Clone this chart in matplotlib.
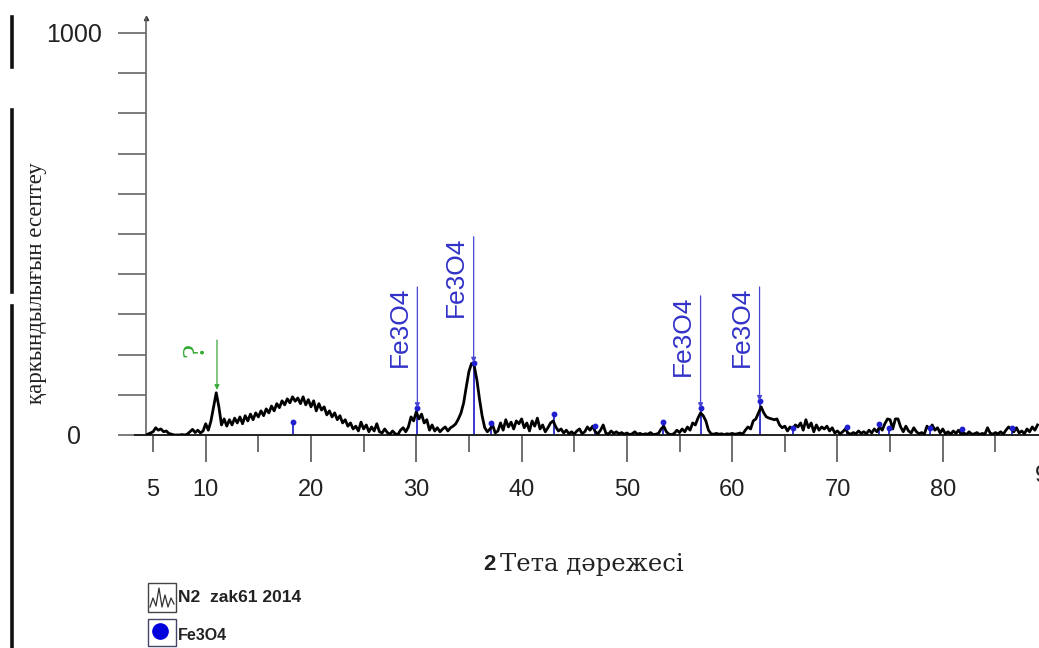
import numpy as np
import matplotlib
matplotlib.use("Agg")
import matplotlib.pyplot as plt
from matplotlib.patches import Rectangle
from matplotlib.lines import Line2D

# ---------------- data ----------------
two_theta = np.arange(4.5, 89.01, 0.25)  # scan grid, degrees 2-theta
intensity = [
    2, 5, 8, 18, 12, 15, 8, 10, 4, 2, 0, 0, 0, 1, 0, 2, 8, 14, 6, 12,
    5, 10, 28, 12, 35, 70, 105, 70, 25, 40, 22, 38, 25, 42, 30, 45, 28, 48, 35, 52,
    38, 55, 45, 60, 48, 65, 55, 72, 60, 78, 68, 85, 75, 90, 80, 95, 84, 92, 78, 95,
    75, 88, 70, 85, 60, 78, 62, 70, 50, 60, 45, 55, 38, 48, 30, 38, 22, 30, 15, 22,
    10, 32, 15, 25, 8, 20, 10, 28, 8, 5, 15, 6, 2, 10, 3, 1, 12, 18, 8, 20,
    45, 35, 58, 40, 52, 30, 38, 12, 25, 10, 18, 8, 15, 20, 10, 18, 22, 28, 40, 55,
    80, 120, 158, 178, 172, 138, 90, 48, 18, 8, 15, 25, 5, 10, 30, 12, 38, 20, 32, 15,
    35, 28, 40, 18, 30, 10, 35, 22, 42, 15, 25, 8, 18, 30, 35, 20, 10, 15, 5, 12,
    3, 8, 2, 10, 15, 3, 8, 20, 12, 22, 8, 3, 12, 25, 5, 2, 10, 4, 8, 3,
    6, 2, 5, 1, 3, 8, 2, 4, 1, 3, 2, 6, 1, 2, 4, 15, 22, 8, 2, 1,
    4, 12, 6, 15, 8, 20, 12, 30, 25, 42, 55, 48, 35, 12, 3, 2, 4, 2, 3, 1,
    3, 2, 4, 2, 3, 5, 2, 12, 20, 15, 35, 40, 55, 70, 55, 45, 42, 40, 38, 40,
    25, 18, 22, 10, 20, 15, 25, 20, 30, 12, 38, 18, 30, 8, 25, 12, 20, 15, 22, 10,
    18, 5, 10, 3, 8, 15, 5, 2, 6, 3, 10, 4, 8, 3, 12, 5, 15, 8, 20, 12,
    28, 40, 38, 15, 40, 40, 20, 8, 22, 10, 5, 18, 8, 3, 6, 2, 22, 15, 25, 12,
    18, 5, 15, 3, 8, 2, 10, 4, 12, 2, 5, 1, 8, 2, 3, 6, 1, 4, 2, 18,
    5, 2, 6, 3, 8, 2, 12, 20, 15, 8, 18, 5, 10, 3, 15, 8, 20, 12, 25,
]
assert len(intensity) == len(two_theta)

# Fe3O4 reference pattern (stick positions / heights)
fe_pos = [18.3, 30.1, 35.45, 37.1, 43.1, 47.0, 53.4, 57.0, 62.6, 65.8, 70.9, 73.9, 74.9, 78.8, 81.8, 86.6]
fe_int = [32, 67, 180, 30, 52, 22, 32, 67, 85, 18, 20, 28, 18, 18, 16, 18]

# labelled peaks
lab_pos = [30.1, 35.45, 57.0, 62.6]
lab_tip = [67, 180, 67, 85]
lab_top = [368, 493, 346, 368]
lab_text = "Fe3O4"

unknown_pos = 11.07
unknown_tip = 112
unknown_top = 236

x_major = [10, 20, 30, 40, 50, 60, 70, 80]
x_minor = [5, 15, 25, 35, 45, 55, 65, 75, 85]
y_ticks = [0, 100, 200, 300, 400, 500, 600, 700, 800, 900, 1000]

W, H = 1039, 648
fig = plt.figure(figsize=(W / 100, H / 100), dpi=100)
fig.patch.set_facecolor("white")

def fx(x):
    return x / W

def fy(y):
    return 1 - y / H

ax = fig.add_axes([fx(146), fy(435), (W - 146) / W, (435 - 18) / H])
ax.set_xlim(4.33, 89.14)
ax.set_ylim(0, 1037)
for s in ("top", "right"):
    ax.spines[s].set_visible(False)
ax.spines["left"].set_color("#666666")
ax.spines["left"].set_linewidth(1.2)
ax.spines["bottom"].set_color("#222222")
ax.spines["bottom"].set_linewidth(1.4)

sans = ["Liberation Sans", "DejaVu Sans"]
serif = ["Liberation Serif", "DejaVu Serif"]

# y ticks
ax.set_yticks(y_ticks)
ax.set_yticklabels(["0"] + [""] * 9 + ["1000"], family=sans, fontsize=18, color="#222222", ha="center")
ax.tick_params(axis="y", direction="out", length=20, width=1.2, color="#666666", pad=32)

# x ticks
ax.set_xticks(x_major)
ax.set_xticklabels([str(v) for v in x_major], family=sans, fontsize=17, color="#222222")
ax.set_xticks(x_minor, minor=True)
ax.set_xticklabels(["5"] + [""] * (len(x_minor) - 1), minor=True, family=sans, fontsize=17, color="#222222")
ax.tick_params(axis="x", which="major", direction="out", length=19.5, width=1.2, color="#555555", pad=12)
ax.tick_params(axis="x", which="minor", direction="out", length=12, width=1.2, color="#555555", pad=19.5)
lbl90 = ax.text(90, 0, "90", transform=ax.get_xaxis_transform(), ha="center", va="top",
                family=sans, fontsize=17, color="#222222", clip_on=False)
lbl90.set_position((90, -0.072))

# extend baseline to the left through the 0 tick
ax.plot([3.3, 4.33], [0, 0], color="#222222", lw=1.4, clip_on=False)

# reference sticks
for p, h in zip(fe_pos, fe_int):
    ax.plot([p, p], [0, h], color="#2a2ac8", lw=1.3, zorder=2)
ax.plot(fe_pos, fe_int, "o", color="#1f1fd0", ms=3.2, zorder=4)

# measured pattern
ax.plot(two_theta, intensity, color="black", lw=2.0, zorder=3)

# labelled Fe3O4 peaks
for p, tip, top in zip(lab_pos, lab_tip, lab_top):
    ax.annotate("", xy=(p, tip), xytext=(p, top),
                arrowprops=dict(arrowstyle="-|>", color="#4646d2", lw=0.9,
                                mutation_scale=7, shrinkA=0, shrinkB=0), zorder=5)
    ax.annotate(lab_text, xy=(p, top), xytext=(-4, 0), textcoords="offset points",
                rotation=90, ha="right", va="top", family=sans, fontsize=19,
                color="#3232c8")

# unknown peak
ax.annotate("", xy=(unknown_pos, unknown_tip), xytext=(unknown_pos, unknown_top),
            arrowprops=dict(arrowstyle="-|>", color="#3caa3c", lw=0.9,
                            mutation_scale=7, shrinkA=0, shrinkB=0), zorder=5)
ax.annotate("?", xy=(unknown_pos, unknown_top), xytext=(-5, -2), textcoords="offset points",
            rotation=90, ha="right", va="top", family=serif, fontsize=23,
            color="#33aa33")

# y axis arrow tip
ax.plot([4.33], [1037], marker="^", color="#333333", ms=3, clip_on=False)

# axis labels
fig.text(fx(37), fy(283), "қаркындылығын есептеу", rotation=90, ha="center", va="center",
         family=serif, fontsize=16.5, color="#222222")
fig.text(fx(483), fy(564), "2", ha="left", va="center", family=sans, fontweight="bold",
         fontsize=16, color="#222222")
fig.text(fx(500), fy(564), "Тета дәрежесі", ha="left", va="center",
         family=["DejaVu Serif"], fontsize=17.5, color="#222222")

# left-edge artifact bar
for y0, y1 in [(17, 67), (110, 292), (306, 648)]:
    fig.add_artist(Line2D([fx(12), fx(12)], [fy(y0), fy(y1)], color="#111111", lw=2.6))

# legend
fig.add_artist(Rectangle((fx(148), fy(612)), 28 / W, 29 / H, transform=fig.transFigure,
                         fill=False, edgecolor="#444444", lw=1))
zx = [150, 153, 156, 159, 162, 165, 168, 171, 174]
zy = [607, 598, 606, 588, 607, 595, 607, 598, 604]
fig.add_artist(Line2D([fx(v) for v in zx], [fy(v) for v in zy], color="#333333", lw=0.9))
fig.text(fx(178), fy(598), "N2  zak61 2014", ha="left", va="center", family=sans,
         fontweight="bold", fontsize=12.5, color="#222222")
fig.add_artist(Rectangle((fx(148), fy(646)), 28 / W, 27 / H, transform=fig.transFigure,
                         fill=False, edgecolor="#444466", lw=1))
fig.add_artist(Line2D([fx(160)], [fy(631)], marker="o", markersize=11,
                      color="#0000dd", linestyle="none"))
fig.text(fx(178), fy(636), "Fe3O4", ha="left", va="center", family=sans,
         fontweight="bold", fontsize=11.5, color="#222222")

fig.savefig("out.png", dpi=100, facecolor="white")
